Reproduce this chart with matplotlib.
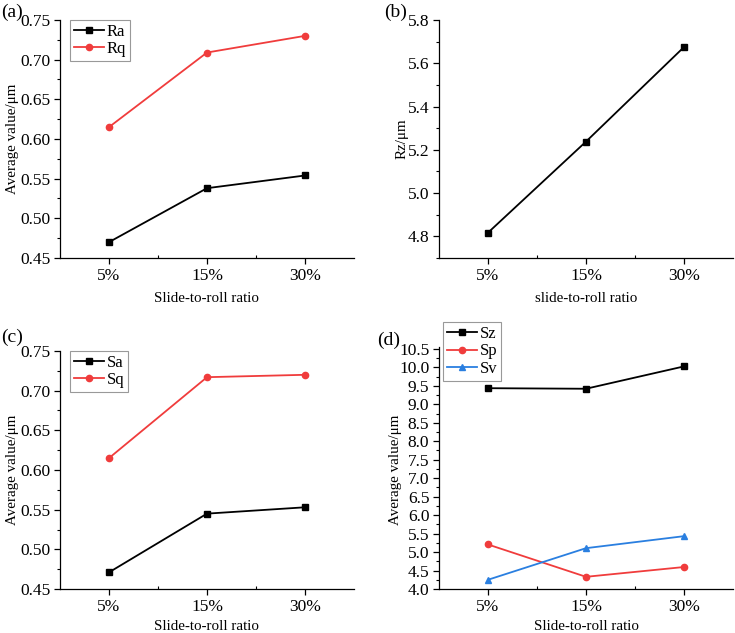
import matplotlib
matplotlib.use("Agg")
import matplotlib.pyplot as plt
from matplotlib.ticker import MultipleLocator, FormatStrFormatter

plt.rcParams['font.family'] = ['Liberation Serif', 'DejaVu Serif']

categories = ['5%', '15%', '30%']

Ra = [0.470, 0.538, 0.554]
Rq = [0.615, 0.709, 0.730]
Rz = [4.817, 5.238, 5.675]
Sa = [0.471, 0.545, 0.553]
Sq = [0.615, 0.717, 0.720]
Sz = [9.435, 9.420, 10.025]
Sp = [5.205, 4.330, 4.595]
Sv = [4.250, 5.105, 5.430]

BLACK = '#000000'
RED = '#F03C3C'
BLUE = '#2A7FE0'

W, H = 735, 633
fig = plt.figure(figsize=(W / 100, H / 100), dpi=100)

def box(l, t, r, b):
    return [l / W, 1 - b / H, (r - l) / W, (b - t) / H]

ax_a = fig.add_axes(box(60, 20, 354, 258))
ax_b = fig.add_axes(box(439, 20, 733, 258))
ax_c = fig.add_axes(box(60, 351, 354, 589))
ax_d = fig.add_axes(box(439, 347, 733, 589))

x = list(range(len(categories)))

def style(ax, ylim, major, minor, fmt):
    for s in ['top', 'right']:
        ax.spines[s].set_visible(False)
    for s in ['left', 'bottom']:
        ax.spines[s].set_linewidth(0.9)
    ax.set_xlim(-0.5, 2.5)
    ax.set_ylim(*ylim)
    ax.set_xticks(x)
    ax.set_xticklabels(categories)
    ax.set_xticks([0.5, 1.5], minor=True)
    ax.yaxis.set_major_locator(MultipleLocator(major))
    ax.yaxis.set_minor_locator(MultipleLocator(minor))
    ax.yaxis.set_major_formatter(FormatStrFormatter(fmt))
    ax.tick_params(axis='both', which='major', direction='out', length=4, width=0.9,
                   labelsize=12.5, pad=3)
    ax.tick_params(axis='y', which='minor', direction='out', length=2.5, width=0.8)
    ax.tick_params(axis='x', which='minor', direction='in', length=2.5, width=0.8)

lw = 1.3
ms = 4.5
lab_fs = 10.8

# (a)
ax_a.plot(x, Ra, color=BLACK, marker='s', lw=lw, ms=ms, label='Ra')
ax_a.plot(x, Rq, color=RED, marker='o', lw=lw, ms=ms, label='Rq')
style(ax_a, (0.45, 0.75), 0.05, 0.025, '%.2f')
ax_a.set_xlabel('Slide-to-roll ratio', fontsize=lab_fs)
ax_a.set_ylabel('Average value/μm', fontsize=lab_fs)
ax_a.xaxis.set_label_coords(0.5, (258 - 298) / 238)
ax_a.yaxis.set_label_coords((13 - 60) / 294, 0.5)

# (b)
ax_b.plot(x, Rz, color=BLACK, marker='s', lw=lw, ms=ms)
style(ax_b, (4.7, 5.8), 0.2, 0.1, '%.1f')
ax_b.set_xlabel('slide-to-roll ratio', fontsize=lab_fs)
ax_b.set_ylabel('Rz/μm', fontsize=lab_fs)
ax_b.xaxis.set_label_coords(0.5, (258 - 298) / 238)
ax_b.yaxis.set_label_coords((402 - 439) / 294, 0.5)

# (c)
ax_c.plot(x, Sa, color=BLACK, marker='s', lw=lw, ms=ms, label='Sa')
ax_c.plot(x, Sq, color=RED, marker='o', lw=lw, ms=ms, label='Sq')
style(ax_c, (0.45, 0.75), 0.05, 0.025, '%.2f')
ax_c.set_xlabel('Slide-to-roll ratio', fontsize=lab_fs)
ax_c.set_ylabel('Average value/μm', fontsize=lab_fs)
ax_c.xaxis.set_label_coords(0.5, (589 - 627) / 238)
ax_c.yaxis.set_label_coords((13 - 60) / 294, 0.5)

# (d)
ax_d.plot(x, Sz, color=BLACK, marker='s', lw=lw, ms=ms, label='Sz')
ax_d.plot(x, Sp, color=RED, marker='o', lw=lw, ms=ms, label='Sp')
ax_d.plot(x, Sv, color=BLUE, marker='^', lw=lw, ms=ms, label='Sv')
style(ax_d, (4.0, 10.55), 0.5, 0.25, '%.1f')
ax_d.set_xlabel('Slide-to-roll ratio', fontsize=lab_fs)
ax_d.set_ylabel('Average value/μm', fontsize=lab_fs)
ax_d.xaxis.set_label_coords(0.5, (589 - 627) / 242)
ax_d.yaxis.set_label_coords((395 - 439) / 294, (589 - 470) / 242)

for ax in (ax_a, ax_b, ax_c, ax_d):
    ax.xaxis.label.set_va('center')
    ax.yaxis.label.set_va('center')

leg_kw = dict(fontsize=12, handlelength=1.8, handletextpad=0.2, labelspacing=0.1,
              borderpad=0.22, borderaxespad=0, fancybox=False, edgecolor='#999999',
              framealpha=1)
for ax, (lx, ly) in ((ax_a, (70, 20)), (ax_c, (70, 351)), (ax_d, (443, 322))):
    lg = ax.legend(loc='upper left', bbox_to_anchor=(lx / W, 1 - ly / H),
                   bbox_transform=fig.transFigure, **leg_kw)
    lg.get_frame().set_linewidth(0.8)

fig.text(1 / W, 1 - 12 / H, '(a)', fontsize=14, va='center', ha='left')
fig.text(384 / W, 1 - 12 / H, '(b)', fontsize=14, va='center', ha='left')
fig.text(1 / W, 1 - 337 / H, '(c)', fontsize=14, va='center', ha='left')
fig.text(377 / W, 1 - 340 / H, '(d)', fontsize=14, va='center', ha='left')

fig.savefig('out.png', dpi=100)
